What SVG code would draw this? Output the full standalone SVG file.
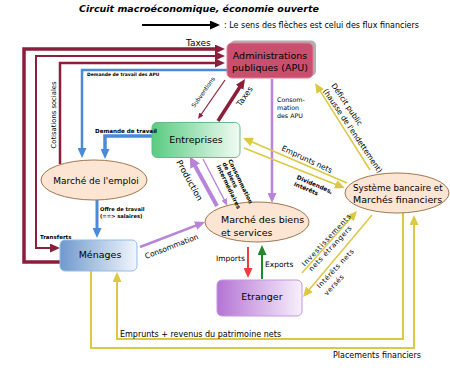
<svg xmlns="http://www.w3.org/2000/svg" width="450" height="382" viewBox="0 0 450 382">
<style>
text{font-family:"DejaVu Sans","Liberation Sans",sans-serif;fill:#000}
.node{font-size:9.5px}
.sm{font-size:5.6px;font-weight:bold}
.dr{stroke:#8b1e3a;fill:none}
.bl{stroke:#4a8bd9;fill:none}
.pu{stroke:#b883da;fill:none}
.ye{stroke:#dcc843;fill:none}
.ell{fill:#fde5d3;stroke:#a07850;stroke-width:1}
</style>
<defs>
<linearGradient id="gEnt" x1="0" x2="1" y1="0" y2="0"><stop offset="0" stop-color="#58cc80"/><stop offset="1" stop-color="#f2fbf5"/></linearGradient>
<linearGradient id="gMen" x1="0" x2="1" y1="0" y2="0"><stop offset="0" stop-color="#6f99cd"/><stop offset="1" stop-color="#f2f6fc"/></linearGradient>
<linearGradient id="gEtr" x1="0" x2="1" y1="0" y2="0"><stop offset="0" stop-color="#b474d4"/><stop offset="1" stop-color="#f8f0fc"/></linearGradient>
<marker id="aDR" markerUnits="userSpaceOnUse" viewBox="0 0 10 10" preserveAspectRatio="none" markerWidth="10" markerHeight="9" refX="5" refY="5" orient="auto-start-reverse"><path d="M0,0L10,5L0,10z" fill="#8b1e3a"/></marker>
<marker id="aDRs" markerUnits="userSpaceOnUse" viewBox="0 0 10 10" preserveAspectRatio="none" markerWidth="6" markerHeight="5" refX="5" refY="5" orient="auto"><path d="M0,0L10,5L0,10z" fill="#8b1e3a"/></marker>
<marker id="aB" markerUnits="userSpaceOnUse" viewBox="0 0 10 10" preserveAspectRatio="none" markerWidth="10" markerHeight="9" refX="5" refY="5" orient="auto"><path d="M0,0L10,5L0,10z" fill="#4a8bd9"/></marker>
<marker id="aP" markerUnits="userSpaceOnUse" viewBox="0 0 10 10" preserveAspectRatio="none" markerWidth="10" markerHeight="9" refX="5" refY="5" orient="auto"><path d="M0,0L10,5L0,10z" fill="#b883da"/></marker>
<marker id="aPL" markerUnits="userSpaceOnUse" viewBox="0 0 10 10" preserveAspectRatio="none" markerWidth="11" markerHeight="11" refX="5" refY="5" orient="auto"><path d="M0,0L10,5L0,10z" fill="#b883da"/></marker>
<marker id="aPs" markerUnits="userSpaceOnUse" viewBox="0 0 10 10" preserveAspectRatio="none" markerWidth="7" markerHeight="6" refX="5" refY="5" orient="auto"><path d="M0,0L10,5L0,10z" fill="#b883da"/></marker>
<marker id="aY" markerUnits="userSpaceOnUse" viewBox="0 0 10 10" preserveAspectRatio="none" markerWidth="10" markerHeight="9" refX="5" refY="5" orient="auto"><path d="M0,0L10,5L0,10z" fill="#dcc843"/></marker>
<marker id="aR" markerUnits="userSpaceOnUse" viewBox="0 0 10 10" preserveAspectRatio="none" markerWidth="10" markerHeight="9" refX="5" refY="5" orient="auto"><path d="M0,0L10,5L0,10z" fill="#f03c3c"/></marker>
<marker id="aG" markerUnits="userSpaceOnUse" viewBox="0 0 10 10" preserveAspectRatio="none" markerWidth="10" markerHeight="9" refX="5" refY="5" orient="auto"><path d="M0,0L10,5L0,10z" fill="#1f8a2c"/></marker>
<marker id="aK" markerUnits="userSpaceOnUse" viewBox="0 0 10 10" preserveAspectRatio="none" markerWidth="10" markerHeight="9" refX="5" refY="5" orient="auto"><path d="M0,0L10,5L0,10z" fill="#000"/></marker>
</defs>
<rect width="450" height="382" fill="#fff"/>

<text x="199" y="11.5" text-anchor="middle" style="font-size:9.5px;font-weight:bold;font-style:italic">Circuit macroéconomique, économie ouverte</text>
<g id="legend">
<path d="M142,25H215" stroke="#000" stroke-width="2" marker-end="url(#aK)"/>
<text x="224" y="28" style="font-size:8px">: Le sens des flèches est celui des flux financiers</text>
</g>

<g id="connectors">
<path class="dr" d="M60,262H24V49H220" stroke-width="3.5" marker-end="url(#aDR)"/>
<path class="dr" d="M220,56H36V248H55" stroke-width="2" marker-start="url(#aDR)" marker-end="url(#aDR)"/>
<path class="dr" d="M60,164V63H220" stroke-width="2.5" marker-end="url(#aDR)"/>
<path class="dr" d="M225,80L199.7,116.5" stroke-width="1.2" marker-end="url(#aDRs)"/>
<path class="dr" d="M218,121L242.3,83.2" stroke-width="3.5" marker-end="url(#aDR)"/>
<path class="bl" d="M227,70H82V153" stroke-width="2.5" marker-end="url(#aB)"/>
<path class="bl" d="M152,136H105V154" stroke-width="3.5" marker-end="url(#aB)"/>
<path class="bl" d="M97,200V233" stroke-width="3" marker-end="url(#aB)"/>
<path class="pu" d="M140,247L200.3,223.8" stroke-width="2.5" marker-end="url(#aP)"/>
<path class="pu" d="M217,206L192.5,161.4" stroke-width="4" marker-end="url(#aPL)"/>
<path class="pu" d="M203,159L225.7,202.6" stroke-width="1.3" marker-end="url(#aPs)"/>
<path class="pu" d="M272,79V198" stroke-width="2.5" marker-end="url(#aP)"/>
<path d="M248,247V273" stroke="#f03c3c" stroke-width="2" marker-end="url(#aR)"/>
<path d="M262,279V250" stroke="#1f8a2c" stroke-width="2" marker-end="url(#aG)"/>
<path class="ye" d="M370,170L317.7,87.2" stroke-width="1.5" marker-end="url(#aY)"/>
<path class="ye" d="M347,183L247.6,140" stroke-width="1.5" marker-end="url(#aY)"/>
<path class="ye" d="M244,148L340.3,186.2" stroke-width="1.5" marker-end="url(#aY)"/>
<path class="ye" d="M302,273L353.7,214.7" stroke-width="1.5" marker-end="url(#aY)"/>
<path class="ye" d="M372,215L306.2,293.2" stroke-width="1.5" marker-end="url(#aY)"/>
<path class="ye" d="M403,213V339H117V277" stroke-width="2" marker-end="url(#aY)"/>
<path class="ye" d="M91,271V348H414V220" stroke-width="2" marker-end="url(#aY)"/>
</g>

<g id="apu">
<rect x="230" y="40.5" width="86" height="35.5" rx="5" fill="#b0b0b0"/>
<rect x="227" y="43" width="86" height="35" rx="5" fill="#c94f6e" stroke="#e07a96" stroke-width="1"/>
<text x="270" y="58.5" text-anchor="middle" class="node">Administrations</text>
<text x="270" y="70.5" text-anchor="middle" class="node">publiques (APU)</text>
</g>
<g id="entreprises">
<rect x="152" y="122.5" width="88" height="35" rx="5" fill="url(#gEnt)" stroke="#66bb88" stroke-width="1"/>
<text x="196" y="143" text-anchor="middle" class="node">Entreprises</text>
</g>
<g id="emploi">
<ellipse cx="94" cy="180" rx="53" ry="20" class="ell"/>
<text x="96" y="184" text-anchor="middle" style="font-size:9px">Marché de l'emploi</text>
</g>
<g id="biens">
<ellipse cx="257" cy="222" rx="52" ry="20" class="ell"/>
<text x="221" y="222.5" class="node">Marché des biens</text>
<text x="221" y="235.5" class="node">et services</text>
</g>
<g id="banques">
<ellipse cx="397" cy="193" rx="52" ry="20" class="ell"/>
<text x="353" y="191" style="font-size:8.7px">Système bancaire et</text>
<text x="353" y="202.5" class="node">Marchés financiers</text>
</g>
<g id="menages">
<rect x="60" y="240" width="77" height="31" rx="5" fill="url(#gMen)" stroke="#93bbe8" stroke-width="1"/>
<text x="100" y="258" text-anchor="middle" class="node">Ménages</text>
</g>
<g id="etranger">
<rect x="217" y="280" width="85" height="36" rx="5" fill="url(#gEtr)" stroke="#c597e2" stroke-width="1"/>
<text x="262" y="300" text-anchor="middle" class="node">Etranger</text>
</g>

<g id="labels">
<text x="186" y="46" style="font-size:9px">Taxes</text>
<text transform="translate(56,115) rotate(-90)" text-anchor="middle" style="font-size:6.8px">Cotisations sociales</text>
<text x="87" y="75.5" style="font-size:4.5px;font-weight:bold">Demande de travail des APU</text>
<text x="95" y="132.5" class="sm">Demande de travail</text>
<text x="100" y="210.5" style="font-size:5.2px;font-weight:bold">Offre de travail</text>
<text x="100" y="217.5" style="font-size:5.2px;font-weight:bold">(==&gt; salaires)</text>
<text x="40" y="238.5" style="font-size:5.5px;font-weight:bold">Transferts</text>
<text transform="translate(194.6,108.1) rotate(-55)" style="font-size:5.8px">Subventions</text>
<text transform="translate(240.5,107) rotate(-55)" style="font-size:8px">Taxes</text>
<text x="277" y="102" style="font-size:6.3px">Consom-</text>
<text x="277" y="110" style="font-size:6.3px">mation</text>
<text x="277" y="118" style="font-size:6.3px">des APU</text>
<text transform="translate(176,162) rotate(61)" style="font-size:8.5px">Production</text>
<text transform="translate(228,160.5) rotate(64)" style="font-size:5.8px;font-weight:bold">Consommation</text>
<text transform="translate(222.2,163.4) rotate(64)" style="font-size:5.8px;font-weight:bold">de biens</text>
<text transform="translate(216.3,166.3) rotate(64)" style="font-size:5.8px;font-weight:bold">intermédiaires</text>
<text transform="translate(146,259) rotate(-21)" style="font-size:7.5px">Consommation</text>
<text transform="translate(331,85.4) rotate(56)" style="font-size:7.5px">Déficit public</text>
<text transform="translate(322.7,91) rotate(56)" style="font-size:7.5px">(hausse de l'endettement)</text>
<text transform="translate(281,150) rotate(25)" style="font-size:7.5px">Emprunts nets</text>
<text transform="translate(296.2,178.8) rotate(23)" style="font-size:5.8px;font-weight:bold">Dividendes,</text>
<text transform="translate(293.5,185.5) rotate(23)" style="font-size:5.8px;font-weight:bold">intérêts</text>
<text transform="translate(304.8,266.7) rotate(-47)" style="font-size:7px;letter-spacing:0.8px">Investissements</text>
<text transform="translate(311.8,271.7) rotate(-47)" style="font-size:7px;letter-spacing:0.6px">nets étrangers</text>
<text transform="translate(319.8,288.7) rotate(-47)" style="font-size:7px;letter-spacing:0.5px">Intérêts nets</text>
<text transform="translate(327,296) rotate(-47)" style="font-size:7px;letter-spacing:0.5px">versés</text>
<text x="216" y="261" style="font-size:7.5px">Imports</text>
<text x="265" y="267" style="font-size:7.5px">Exports</text>
<text x="120" y="336.5" style="font-size:8px">Emprunts + revenus du patrimoine nets</text>
<text x="333" y="358" style="font-size:8px">Placements financiers</text>
</g>
</svg>
